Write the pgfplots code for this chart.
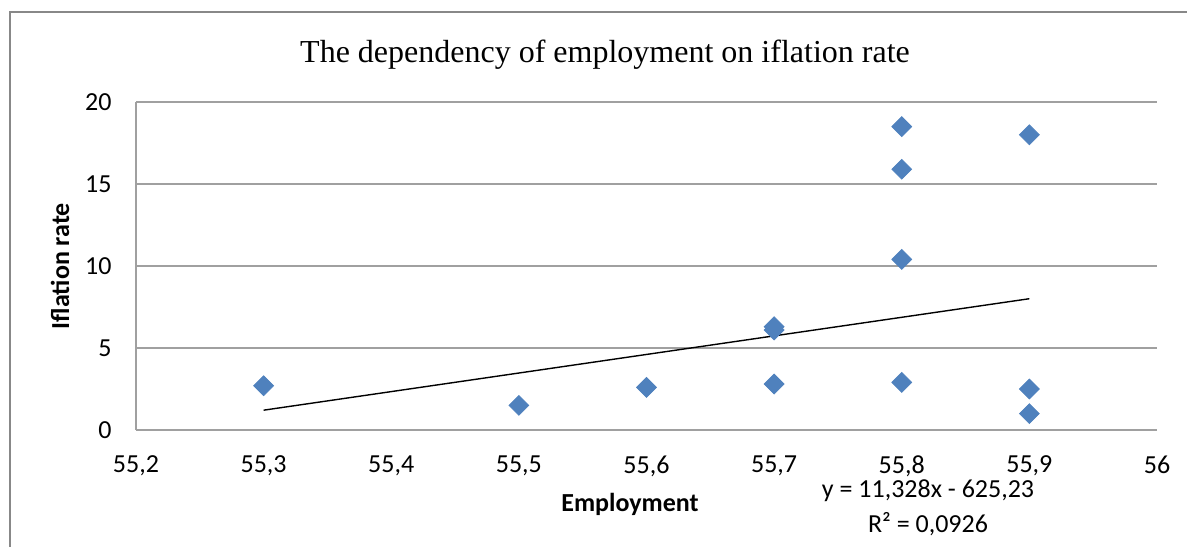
\documentclass[border=0pt]{standalone}
\usepackage{fontspec}
\setmainfont{Carlito}
\newfontfamily\timesfont{Liberation Serif}
\usepackage{pgfplots}
\pgfplotsset{compat=1.18}
\definecolor{mk}{HTML}{4F81BD}
\definecolor{gr}{HTML}{A0A0A0}
\definecolor{fr}{HTML}{888888}
\pgfplotstableread{
x y
55.3 2.7
55.5 1.5
55.6 2.6
55.7 6.3
55.7 6.1
55.7 2.8
55.8 18.5
55.8 15.9
55.8 10.4
55.8 2.9
55.9 18.0
55.9 2.5
55.9 1.0
}\pts
\begin{document}
\begin{tikzpicture}[x=0.5pt,y=0.5pt]
\useasboundingbox (0,0) rectangle (1187,546);
\draw[fr, line width=0.65pt] (10,-5) -- (10,534) -- (1195,534);
\begin{axis}[
  at={(68pt,58pt)}, anchor=south west, scale only axis,
  width=510.5pt, height=164pt,
  xmin=55.2, xmax=56, ymin=0, ymax=20,
  xtick={55.2,55.3,55.4,55.5,55.6,55.7,55.8,55.9,56},
  ytick={0,5,10,15,20},
  axis x line*=bottom, axis y line*=left,
  axis line style={gr, line width=1pt, -},
  ymajorgrids, grid style={gr, line width=1pt},
  major tick length=0pt,
  tick label style={font=\fontsize{13}{15}\selectfont},
  yticklabel style={xshift=-8.7pt},
  xticklabel style={yshift=-9.2pt},
  xlabel={Employment}, ylabel={Iflation rate},
  label style={font=\bfseries\fontsize{13}{15}\selectfont},
  xlabel style={at={(axis description cs:0.4838,-0.2256)}, anchor=center},
  ylabel style={at={(axis description cs:-0.0744,0.5)}, anchor=center, rotate=0},
  /pgf/number format/.cd, use comma, fixed, precision=1, assume math mode=true,
]
\addplot[only marks, mark=square*, mark size=3.5pt, mark options={rotate=45, fill=mk, draw=mk}] table[x=x,y=y] {\pts};
\addplot[black, line width=0.7pt] coordinates {(55.3,1.2084) (55.9,8.0052)};
\end{axis}
\node[font=\timesfont\fontsize{16}{19}\selectfont] at (605,491) {The dependency of employment on iflation rate};
\node[font=\fontsize{13}{15}\selectfont, anchor=base, inner sep=0pt] at (928,49) {y = 11,328x - 625,23};
\node[font=\fontsize{13}{15}\selectfont, anchor=base, inner sep=0pt] at (928,14) {R² = 0,0926};
\end{tikzpicture}
\end{document}
